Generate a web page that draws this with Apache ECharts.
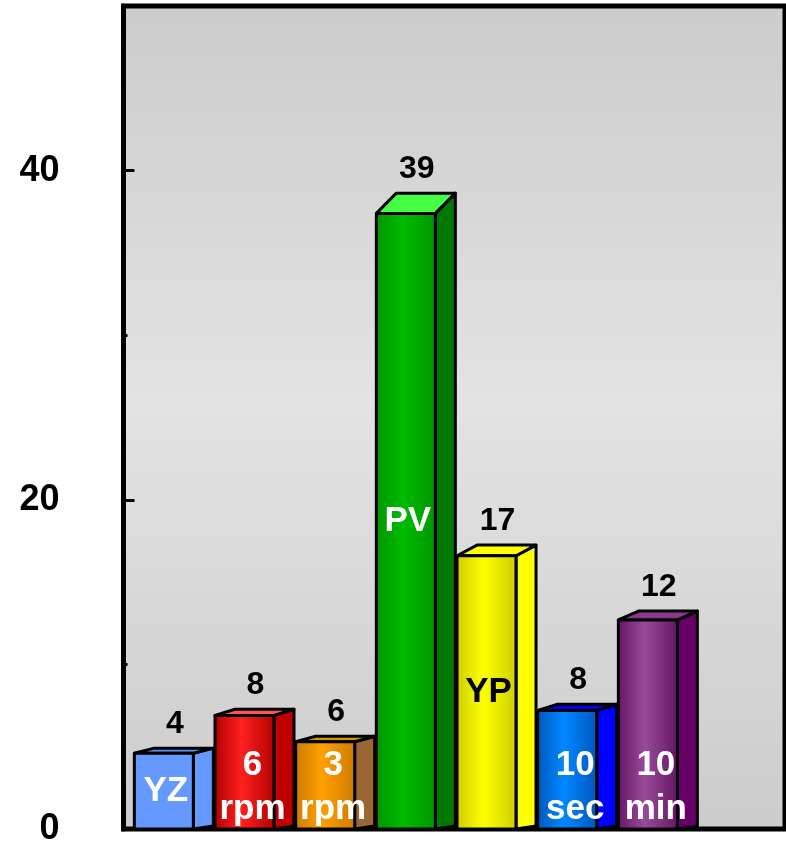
<!DOCTYPE html>
<html>
<head>
<meta charset="utf-8">
<script src="https://cdn.jsdelivr.net/npm/echarts@6/dist/echarts.min.js"></script>
<style>
  html, body { margin: 0; padding: 0; background: #fff; }
  #main { width: 786px; height: 847px; }
</style>
</head>
<body>
<div id="main"></div>
<script>
// 柱子名称（柱内文字）
var categories = ['YZ', '6\nrpm', '3\nrpm', 'PV', 'YP', '10\nsec', '10\nmin'];
// 柱高（按纵轴读出）
var barHeights = [4.6, 6.9, 5.3, 37.4, 16.6, 7.2, 12.7];
// 柱顶数字
var topLabels = ['4', '8', '6', '39', '17', '8', '12'];
// 纵轴刻度标签
var yTicks = [0, 20, 40];

// 颜色
var frontColors = [
    ['#6699ff', '#6699ff'],
    ['#b00000', '#ff2020'],
    ['#cc7a00', '#ffa000'],
    ['#009400', '#00bb00'],
    ['#cccc00', '#ffff00'],
    ['#0055bb', '#0088ff'],
    ['#641464', '#9a4a9a']
];
var sideColors = ['#6699ff', '#c00000', '#9a6633', '#007800', '#ffff00', '#0000ff', '#660066'];
var topColors = ['#5e8ef2', '#ff5555', '#cc9900', '#44ff44', '#ffff00', '#0000ee', '#8a3a8a'];
var textColors = ['#fff', '#fff', '#fff', '#fff', '#000', '#fff', '#fff'];

var myChart = echarts.init(document.getElementById('main'));

var data = [];
for (var i = 0; i < barHeights.length; i++) {
    data.push([i, barHeights[i]]);
}

var FONT = 'Liberation Sans, Arial, sans-serif';

function renderBar(params, api) {
    var idx = params.dataIndex;
    var base = api.coord([api.value(0), 0]);
    var top = api.coord([api.value(0), api.value(1)]);
    var half = 29.5, dx = 20;
    var x0 = base[0] - half, x1 = base[0] + half;
    var yb = base[1], yt = top[1];
    var dyTop = 3 + 0.028 * (yb - yt), dyBot = 3;
    var c = frontColors[idx];
    var edge = { stroke: '#000', lineWidth: 3, lineJoin: 'round' };

    var children = [
        {
            type: 'polygon',
            shape: { points: [[x1, yt], [x1 + dx, yt - dyTop], [x1 + dx, yb - dyBot], [x1, yb]] },
            style: echarts.util.extend({ fill: sideColors[idx] }, edge)
        },
        {
            type: 'polygon',
            shape: { points: [[x0, yt], [x0 + dx, yt - dyTop], [x1 + dx, yt - dyTop], [x1, yt]] },
            style: echarts.util.extend({ fill: topColors[idx] }, edge)
        },
        {
            type: 'polygon',
            shape: { points: [[x0, yt], [x1, yt], [x1, yb], [x0, yb]] },
            style: echarts.util.extend({
                fill: new echarts.graphic.LinearGradient(0, 0, 1, 0, [
                    { offset: 0, color: c[0] },
                    { offset: 0.45, color: c[1] },
                    { offset: 1, color: c[0] }
                ])
            }, edge)
        },
        {
            // 柱顶数字
            type: 'text',
            z2: 100,
            x: base[0] + 11,
            y: yt - dyTop - 8,
            style: {
                text: topLabels[idx],
                fill: '#000',
                fontFamily: FONT,
                fontWeight: 'bold',
                fontSize: 32,
                align: 'center',
                verticalAlign: 'bottom'
            }
        }
    ];

    var name = categories[idx];
    var twoLines = name.indexOf('\n') >= 0;
    children.push({
        // 柱内文字
        type: 'text',
        z2: 100,
        x: base[0] + (twoLines ? 8 : 2),
        y: twoLines ? yb + 2 : (yt + yb) / 2,
        style: {
            text: name,
            fill: textColors[idx],
            fontFamily: FONT,
            fontWeight: 'bold',
            fontSize: 35,
            lineHeight: 44,
            align: 'center',
            verticalAlign: twoLines ? 'bottom' : 'middle'
        }
    });

    return { type: 'group', children: children };
}

var option = {
    animation: false,
    grid: {
        left: 123.5,
        right: 1,
        top: 6,
        bottom: 17,
        show: true,
        borderColor: '#000',
        borderWidth: 5,
        backgroundColor: new echarts.graphic.LinearGradient(0, 0, 0, 1, [
            { offset: 0, color: '#cccccc' },
            { offset: 0.48, color: '#e3e3e3' },
            { offset: 1, color: '#cccccc' }
        ])
    },
    xAxis: {
        type: 'value',
        min: -0.5,
        max: 7.7,
        show: false
    },
    yAxis: {
        type: 'value',
        min: 0,
        max: 50,
        interval: 20,
        axisLine: { show: true, onZero: false, lineStyle: { color: '#000', width: 5 } },
        axisTick: { show: true, inside: true, length: 11, lineStyle: { color: '#000', width: 3 } },
        minorTick: { show: true, splitNumber: 2, length: 4, lineStyle: { color: '#000', width: 3 } },
        splitLine: { show: false },
        axisLabel: {
            margin: 64,
            color: '#000',
            fontFamily: FONT,
            fontWeight: 'bold',
            fontSize: 36,
            formatter: function (v) {
                return yTicks.indexOf(v) >= 0 ? String(v) : '';
            }
        }
    },
    series: [{
        type: 'custom',
        renderItem: renderBar,
        encode: { x: 0, y: 1 },
        data: data,
        clip: false
    }]
};

myChart.setOption(option);
</script>
</body>
</html>
